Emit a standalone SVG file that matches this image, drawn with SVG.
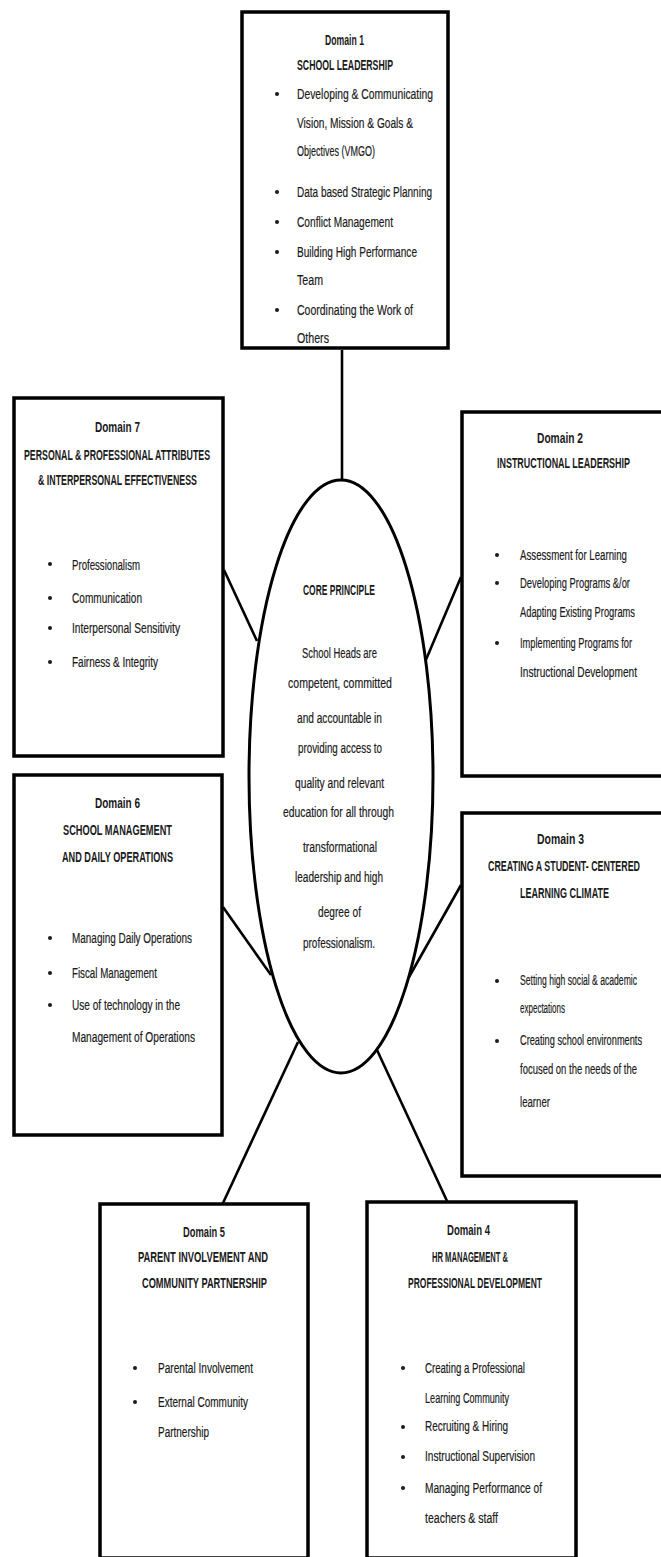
<svg xmlns="http://www.w3.org/2000/svg" width="661" height="1557" viewBox="0 0 661 1557">
<style>
.box{fill:#fff;stroke:#000;stroke-width:3.5}
.ell{fill:#fff;stroke:#000;stroke-width:3}
.con line{stroke:#000;stroke-width:2.6;stroke-linecap:butt}
text{font-family:"Liberation Sans",Arial,sans-serif;font-size:15.5px;fill:#1a1a1a;stroke:#1a1a1a;stroke-width:0.2}
.h{font-weight:bold;font-size:14.5px;stroke-width:0}
.b{fill:#1a1a1a}
</style>
<rect width="661" height="1557" fill="#fff"/>
<g class="con" id="connectors">
<line x1="342" y1="350" x2="342" y2="480"/>
<line x1="224" y1="570" x2="257" y2="641"/>
<line x1="425" y1="662" x2="461" y2="577"/>
<line x1="223" y1="907" x2="271" y2="975"/>
<line x1="409" y1="977" x2="461" y2="885"/>
<line x1="298" y1="1042" x2="223" y2="1203"/>
<line x1="377" y1="1050" x2="447" y2="1201"/>
</g>
<g id="core">
<ellipse class="ell" cx="341" cy="776.5" rx="92" ry="296.5"/>
<text class="h" x="303" y="595" textLength="72" lengthAdjust="spacingAndGlyphs">CORE PRINCIPLE</text>
<text x="302" y="658" textLength="75" lengthAdjust="spacingAndGlyphs">School Heads are</text>
<text x="288" y="688" textLength="104" lengthAdjust="spacingAndGlyphs">competent, committed</text>
<text x="297" y="723" textLength="85" lengthAdjust="spacingAndGlyphs">and accountable in</text>
<text x="298" y="753" textLength="84" lengthAdjust="spacingAndGlyphs">providing access to</text>
<text x="295" y="788" textLength="89" lengthAdjust="spacingAndGlyphs">quality and relevant</text>
<text x="283" y="817" textLength="111" lengthAdjust="spacingAndGlyphs">education for all through</text>
<text x="303" y="852" textLength="74" lengthAdjust="spacingAndGlyphs">transformational</text>
<text x="295" y="882" textLength="88" lengthAdjust="spacingAndGlyphs">leadership and high</text>
<text x="318" y="917" textLength="43" lengthAdjust="spacingAndGlyphs">degree of</text>
<text x="303" y="948" textLength="72" lengthAdjust="spacingAndGlyphs">professionalism.</text>
</g>
<g id="domain1">
<rect class="box" x="242" y="12" width="206" height="336"/>
<text class="h" x="325" y="45" textLength="39" lengthAdjust="spacingAndGlyphs">Domain 1</text>
<text class="h" x="297" y="70" textLength="96" lengthAdjust="spacingAndGlyphs">SCHOOL LEADERSHIP</text>
<circle class="b" cx="277" cy="94" r="2"/>
<circle class="b" cx="277" cy="192" r="2"/>
<circle class="b" cx="277" cy="222" r="2"/>
<circle class="b" cx="277" cy="252" r="2"/>
<circle class="b" cx="277" cy="310" r="2"/>
<text x="297" y="99" textLength="136" lengthAdjust="spacingAndGlyphs">Developing &amp; Communicating</text>
<text x="297" y="128" textLength="116" lengthAdjust="spacingAndGlyphs">Vision, Mission &amp; Goals &amp;</text>
<text x="297" y="156" textLength="78" lengthAdjust="spacingAndGlyphs">Objectives (VMGO)</text>
<text x="297" y="197" textLength="135" lengthAdjust="spacingAndGlyphs">Data based Strategic Planning</text>
<text x="297" y="227" textLength="96" lengthAdjust="spacingAndGlyphs">Conflict Management</text>
<text x="297" y="257" textLength="120" lengthAdjust="spacingAndGlyphs">Building High Performance</text>
<text x="297" y="285" textLength="26" lengthAdjust="spacingAndGlyphs">Team</text>
<text x="297" y="315" textLength="116" lengthAdjust="spacingAndGlyphs">Coordinating the Work of</text>
<text x="297" y="343" textLength="32" lengthAdjust="spacingAndGlyphs">Others</text>
</g>
<g id="domain7">
<rect class="box" x="14" y="398" width="209" height="358"/>
<text class="h" x="95" y="432" textLength="45" lengthAdjust="spacingAndGlyphs">Domain 7</text>
<text class="h" x="24" y="460" textLength="186" lengthAdjust="spacingAndGlyphs">PERSONAL &amp; PROFESSIONAL ATTRIBUTES</text>
<text class="h" x="38" y="485" textLength="159" lengthAdjust="spacingAndGlyphs">&amp; INTERPERSONAL EFFECTIVENESS</text>
<circle class="b" cx="50" cy="564" r="2"/>
<circle class="b" cx="50" cy="598" r="2"/>
<circle class="b" cx="50" cy="628" r="2"/>
<circle class="b" cx="50" cy="662" r="2"/>
<text x="72" y="570" textLength="68" lengthAdjust="spacingAndGlyphs">Professionalism</text>
<text x="72" y="603" textLength="70" lengthAdjust="spacingAndGlyphs">Communication</text>
<text x="72" y="633" textLength="108" lengthAdjust="spacingAndGlyphs">Interpersonal Sensitivity</text>
<text x="72" y="667" textLength="86" lengthAdjust="spacingAndGlyphs">Fairness &amp; Integrity</text>
</g>
<g id="domain2">
<rect class="box" x="462" y="412" width="202" height="364"/>
<text class="h" x="537" y="443" textLength="46" lengthAdjust="spacingAndGlyphs">Domain 2</text>
<text class="h" x="497" y="468" textLength="133" lengthAdjust="spacingAndGlyphs">INSTRUCTIONAL LEADERSHIP</text>
<circle class="b" cx="497" cy="555" r="2"/>
<circle class="b" cx="497" cy="583" r="2"/>
<circle class="b" cx="497" cy="643" r="2"/>
<text x="520" y="560" textLength="107" lengthAdjust="spacingAndGlyphs">Assessment for Learning</text>
<text x="520" y="588" textLength="110" lengthAdjust="spacingAndGlyphs">Developing Programs &amp;/or</text>
<text x="520" y="617" textLength="115" lengthAdjust="spacingAndGlyphs">Adapting Existing Programs</text>
<text x="520" y="648" textLength="112" lengthAdjust="spacingAndGlyphs">Implementing Programs for</text>
<text x="520" y="677" textLength="117" lengthAdjust="spacingAndGlyphs">Instructional Development</text>
</g>
<g id="domain6">
<rect class="box" x="14" y="775" width="208" height="360"/>
<text class="h" x="95" y="808" textLength="45" lengthAdjust="spacingAndGlyphs">Domain 6</text>
<text class="h" x="63" y="835" textLength="109" lengthAdjust="spacingAndGlyphs">SCHOOL MANAGEMENT</text>
<text class="h" x="62" y="862" textLength="111" lengthAdjust="spacingAndGlyphs">AND DAILY OPERATIONS</text>
<circle class="b" cx="50" cy="938" r="2"/>
<circle class="b" cx="50" cy="973" r="2"/>
<circle class="b" cx="50" cy="1005" r="2"/>
<text x="72" y="943" textLength="120" lengthAdjust="spacingAndGlyphs">Managing Daily Operations</text>
<text x="72" y="978" textLength="85" lengthAdjust="spacingAndGlyphs">Fiscal Management</text>
<text x="72" y="1010" textLength="108" lengthAdjust="spacingAndGlyphs">Use of technology in the</text>
<text x="72" y="1042" textLength="123" lengthAdjust="spacingAndGlyphs">Management of Operations</text>
</g>
<g id="domain3">
<rect class="box" x="462" y="813" width="202" height="363"/>
<text class="h" x="537" y="844" textLength="47" lengthAdjust="spacingAndGlyphs">Domain 3</text>
<text class="h" x="488" y="871" textLength="152" lengthAdjust="spacingAndGlyphs">CREATING A STUDENT- CENTERED</text>
<text class="h" x="520" y="898" textLength="89" lengthAdjust="spacingAndGlyphs">LEARNING CLIMATE</text>
<circle class="b" cx="497" cy="981" r="2"/>
<circle class="b" cx="497" cy="1041" r="2"/>
<text x="520" y="985" textLength="117" lengthAdjust="spacingAndGlyphs">Setting high social &amp; academic</text>
<text x="520" y="1013" textLength="45" lengthAdjust="spacingAndGlyphs">expectations</text>
<text x="520" y="1045" textLength="122" lengthAdjust="spacingAndGlyphs">Creating school environments</text>
<text x="520" y="1074" textLength="117" lengthAdjust="spacingAndGlyphs">focused on the needs of the</text>
<text x="520" y="1107" textLength="30" lengthAdjust="spacingAndGlyphs">learner</text>
</g>
<g id="domain5">
<rect class="box" x="100" y="1204" width="208" height="354"/>
<text class="h" x="183" y="1237" textLength="42" lengthAdjust="spacingAndGlyphs">Domain 5</text>
<text class="h" x="138" y="1262" textLength="130" lengthAdjust="spacingAndGlyphs">PARENT INVOLVEMENT AND</text>
<text class="h" x="142" y="1288" textLength="125" lengthAdjust="spacingAndGlyphs">COMMUNITY PARTNERSHIP</text>
<circle class="b" cx="135" cy="1368" r="2"/>
<circle class="b" cx="135" cy="1402" r="2"/>
<text x="158" y="1373" textLength="95" lengthAdjust="spacingAndGlyphs">Parental Involvement</text>
<text x="158" y="1407" textLength="90" lengthAdjust="spacingAndGlyphs">External Community</text>
<text x="158" y="1437" textLength="51" lengthAdjust="spacingAndGlyphs">Partnership</text>
</g>
<g id="domain4">
<rect class="box" x="367" y="1202" width="209" height="356"/>
<text class="h" x="447" y="1235" textLength="43" lengthAdjust="spacingAndGlyphs">Domain 4</text>
<text class="h" x="432" y="1262" textLength="76" lengthAdjust="spacingAndGlyphs">HR MANAGEMENT &amp;</text>
<text class="h" x="408" y="1288" textLength="134" lengthAdjust="spacingAndGlyphs">PROFESSIONAL DEVELOPMENT</text>
<circle class="b" cx="403" cy="1368" r="2"/>
<circle class="b" cx="403" cy="1427" r="2"/>
<circle class="b" cx="403" cy="1457" r="2"/>
<circle class="b" cx="403" cy="1488" r="2"/>
<text x="425" y="1373" textLength="100" lengthAdjust="spacingAndGlyphs">Creating a Professional</text>
<text x="425" y="1403" textLength="84" lengthAdjust="spacingAndGlyphs">Learning Community</text>
<text x="425" y="1431" textLength="83" lengthAdjust="spacingAndGlyphs">Recruiting &amp; Hiring</text>
<text x="425" y="1461" textLength="110" lengthAdjust="spacingAndGlyphs">Instructional Supervision</text>
<text x="425" y="1493" textLength="117" lengthAdjust="spacingAndGlyphs">Managing Performance of</text>
<text x="425" y="1523" textLength="73" lengthAdjust="spacingAndGlyphs">teachers &amp; staff</text>
</g>
</svg>
